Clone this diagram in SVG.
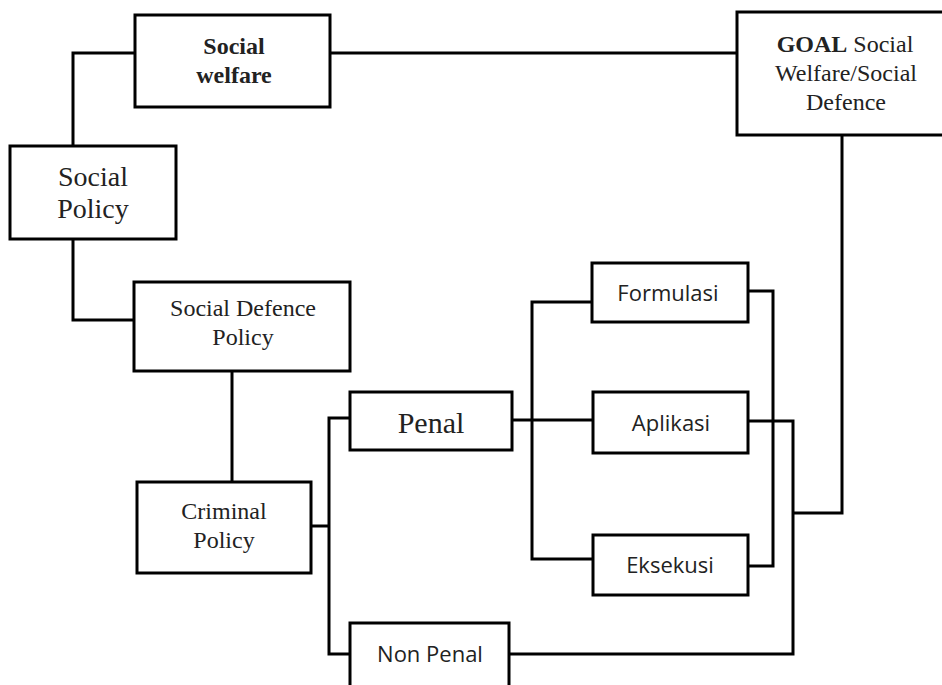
<svg xmlns="http://www.w3.org/2000/svg" width="942" height="685" viewBox="0 0 942 685">
<style>
.box{fill:#fff;stroke:#000;stroke-width:3}
.con{fill:none;stroke:#000;stroke-width:3;stroke-linejoin:miter}
.serif{font-family:"Liberation Serif","Times New Roman",serif;fill:#222;text-anchor:middle}
.sans{font-family:"Open Sans","Noto Sans",sans-serif;fill:#222;text-anchor:middle;font-size:22px}
</style>
<rect width="942" height="685" fill="#fff"/>
<g id="connectors">
<path class="con" d="M73,146 V53 H135"/>
<path class="con" d="M330,53 H737"/>
<path class="con" d="M73,239 V320 H134"/>
<path class="con" d="M232,371 V482"/>
<path class="con" d="M311,526 H329"/>
<path class="con" d="M350,418 H329 V654 H350"/>
<path class="con" d="M512,420 H593"/>
<path class="con" d="M592,302 H532 V559 H593"/>
<path class="con" d="M748,291 H773 V566 H748"/>
<path class="con" d="M748,421 H793 V654 H509"/>
<path class="con" d="M842,135 V513 H793"/>
</g>
<g id="social-welfare">
<rect class="box" x="135" y="15" width="195" height="92"/>
<text class="serif" font-size="24" font-weight="bold"><tspan x="234" y="54">Social</tspan><tspan x="234" y="83">welfare</tspan></text>
</g>
<g id="goal">
<rect class="box" x="737" y="12" width="220" height="123"/>
<text class="serif" font-size="24"><tspan x="845" y="52"><tspan font-weight="bold">GOAL</tspan> Social</tspan><tspan x="846" y="81">Welfare/Social</tspan><tspan x="846" y="110">Defence</tspan></text>
</g>
<g id="social-policy">
<rect class="box" x="10" y="146" width="166" height="93"/>
<text class="serif" font-size="28"><tspan x="93" y="186">Social</tspan><tspan x="93" y="218">Policy</tspan></text>
</g>
<g id="social-defence-policy">
<rect class="box" x="134" y="282" width="216" height="89"/>
<text class="serif" font-size="24"><tspan x="243" y="316">Social Defence</tspan><tspan x="243" y="345">Policy</tspan></text>
</g>
<g id="criminal-policy">
<rect class="box" x="137" y="482" width="174" height="91"/>
<text class="serif" font-size="24"><tspan x="224" y="519">Criminal</tspan><tspan x="224" y="548">Policy</tspan></text>
</g>
<g id="penal">
<rect class="box" x="350" y="392" width="162" height="58"/>
<text class="serif" font-size="30" x="431" y="433">Penal</text>
</g>
<g id="non-penal">
<rect class="box" x="350" y="623" width="159" height="80"/>
<text class="sans" x="430" y="662">Non Penal</text>
</g>
<g id="formulasi">
<rect class="box" x="592" y="263" width="156" height="59"/>
<text class="sans" x="668" y="301">Formulasi</text>
</g>
<g id="aplikasi">
<rect class="box" x="593" y="392" width="155" height="61"/>
<text class="sans" x="671" y="431">Aplikasi</text>
</g>
<g id="eksekusi">
<rect class="box" x="593" y="535" width="155" height="60"/>
<text class="sans" x="670" y="573">Eksekusi</text>
</g>
</svg>
